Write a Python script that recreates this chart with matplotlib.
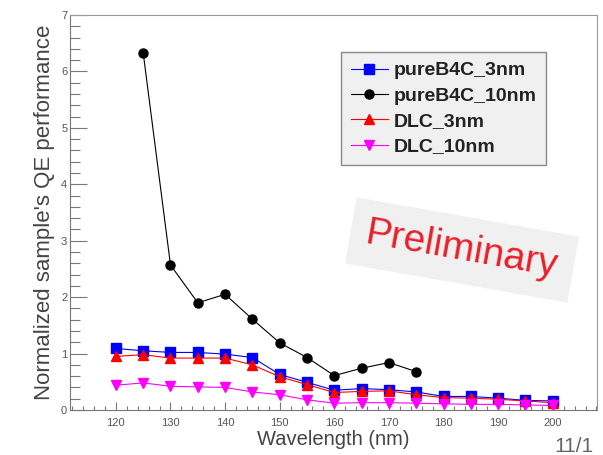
import numpy as np
import matplotlib
matplotlib.use('Agg')
import matplotlib.pyplot as plt
from matplotlib.ticker import MultipleLocator

plt.rcParams['font.family'] = ['Liberation Sans', 'DejaVu Sans']

# wavelengths (nm)
wl = [120, 125, 130, 135, 140, 145, 150, 155, 160, 165, 170, 175, 180, 185, 190, 195, 200]
wl_b4c10 = [125, 130, 135, 140, 145, 150, 155, 160, 165, 170, 175]

# normalized QE
b4c_3nm = [1.09, 1.05, 1.02, 1.02, 0.99, 0.93, 0.63, 0.49, 0.35, 0.38, 0.36, 0.32, 0.24, 0.24, 0.21, 0.17, 0.16]
b4c_10nm = [6.33, 2.57, 1.90, 2.05, 1.61, 1.19, 0.93, 0.61, 0.74, 0.84, 0.68]
dlc_3nm = [0.95, 0.98, 0.92, 0.92, 0.92, 0.80, 0.59, 0.45, 0.31, 0.33, 0.34, 0.27, 0.22, 0.21, 0.19, 0.16, 0.13]
dlc_10nm = [0.44, 0.48, 0.42, 0.41, 0.40, 0.32, 0.27, 0.18, 0.12, 0.13, 0.13, 0.12, 0.11, 0.10, 0.10, 0.09, 0.08]

W, H = 603, 455
fig = plt.figure(figsize=(W/100, H/100), dpi=100)
ax = fig.add_axes([70/W, 45/H, 527/W, 395/H])

ax.plot(wl, b4c_3nm, '-s', color='blue', lw=0.8, ms=6.5, label='pureB4C_3nm')
ax.plot(wl_b4c10, b4c_10nm, '-o', color='black', lw=0.8, ms=6.5, label='pureB4C_10nm')
ax.plot(wl, dlc_3nm, '-^', color='red', lw=0.8, ms=6.5, label='DLC_3nm')
ax.plot(wl, dlc_10nm, '-v', color='magenta', lw=0.8, ms=6.5, label='DLC_10nm')

ax.set_xlim(111.6, 208.1)
ax.set_ylim(0, 7)
ax.xaxis.set_minor_locator(MultipleLocator(2))
ax.yaxis.set_major_locator(MultipleLocator(1))
ax.yaxis.set_minor_locator(MultipleLocator(0.2))
ax.set_xticks(range(120, 201, 10))
ax.tick_params(axis='y', which='major', direction='in', length=12, width=0.8, color='#777777',
               labelsize=8, labelcolor='#555555', pad=2)
ax.tick_params(axis='y', which='minor', direction='in', length=7, width=0.8, color='#777777')
ax.tick_params(axis='x', which='major', direction='in', length=6, width=0.8, color='#777777',
               labelsize=8, labelcolor='#555555', pad=6)
ax.tick_params(axis='x', which='minor', direction='in', length=3, width=0.8, color='#777777')
for s in ['top', 'right']:
    ax.spines[s].set_color('#999999')
for s in ['left', 'bottom']:
    ax.spines[s].set_color('#777777')

ax.set_xlabel('Wavelength (nm)', fontsize=14.5, color='#444444', labelpad=1)
ax.set_ylabel("Normalized sample's QE performance", fontsize=16, color='#444444', labelpad=4)

leg = ax.legend(loc='upper left', bbox_to_anchor=((341-70)/527, (410-52)/395),
                prop={'weight': 'bold', 'size': 14}, frameon=True, fancybox=False,
                handlelength=1.9, handletextpad=0.3, labelspacing=0.4, borderpad=0.5,
                borderaxespad=0)
leg.get_frame().set_facecolor('#f0f0f0')
leg.get_frame().set_edgecolor('#888888')
leg.get_frame().set_alpha(1)
for t in leg.get_texts():
    t.set_color('#222222')

fig.text(462/W, 1-250/H, 'Preliminary', fontsize=28, color='#e8202a', rotation=-10,
         ha='center', va='center',
         bbox=dict(boxstyle='square,pad=0.4', facecolor='#f0f0f0', edgecolor='none'))

fig.text(554/W, 1-446/H, '11/1', fontsize=15, color='#666666', ha='left', va='center')

fig.savefig('out.png', dpi=100)
